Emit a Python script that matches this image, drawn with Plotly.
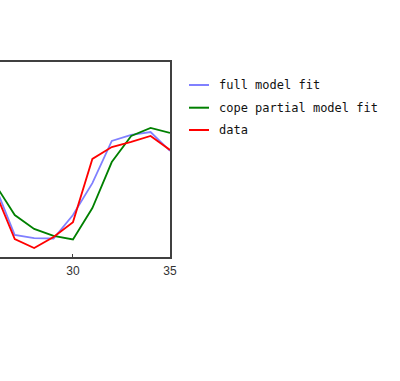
import plotly.graph_objects as go

# time points (volumes)
t = [26, 27, 28, 29, 30, 31, 32, 33, 34, 35]
# values (arbitrary signal units)
full_model_fit = [36.2, 11.3, 9.7, 9.5, 21.5, 37.9, 59.5, 62.6, 64.1, 54.4]
cope_partial_fit = [37.2, 21.5, 14.4, 10.8, 9.0, 25.1, 48.7, 62.1, 66.2, 63.6]
data = [33.3, 9.2, 4.6, 10.3, 17.9, 50.3, 56.4, 59.0, 62.1, 54.9]

series_names = ["full model fit", "cope partial model fit", "data"]
series_colors = ["#8080ff", "#008000", "#ff0000"]
x_ticks = [25, 30, 35]

fig = go.Figure()
for name, vals, col in zip(series_names, [full_model_fit, cope_partial_fit, data], series_colors):
    fig.add_trace(go.Scatter(x=t, y=vals, mode="lines", name=name,
                             line=dict(color=col, width=1.8), showlegend=False))

# plot area: 170 px wide, 195 px tall
W_PLOT = 170.0
H_PLOT = 195.0
shapes = []
annotations = []
legend_y_px = [85, 107.7, 130]
for name, col, ypx in zip(series_names, series_colors, legend_y_px):
    yp = (257 - ypx) / H_PLOT
    shapes.append(dict(type="line", xref="paper", yref="paper",
                       x0=189 / W_PLOT, x1=209 / W_PLOT, y0=yp, y1=yp,
                       line=dict(color=col, width=2)))
    annotations.append(dict(text=name, xref="paper", yref="paper",
                            x=217 / W_PLOT, y=yp, xanchor="left", yanchor="middle",
                            showarrow=False,
                            font=dict(family="DejaVu Sans Mono", size=12, color="#111111")))

fig.update_layout(
    width=400, height=381,
    margin=dict(l=0, r=230, t=62, b=124),
    paper_bgcolor="white", plot_bgcolor="white",
    shapes=shapes, annotations=annotations,
    xaxis=dict(range=[26.24, 35], tickvals=x_ticks, ticktext=[str(v) for v in x_ticks],
               showgrid=False, zeroline=False,
               showline=True, mirror=True, linecolor="#404040", linewidth=1.5,
               ticks="inside", ticklen=3, tickcolor="#404040", ticklabelstandoff=2,
               tickfont=dict(family="Arial", size=12, color="#333333")),
    yaxis=dict(range=[0, 100], showgrid=False, zeroline=False,
               side="right", showline=True, mirror=False, linecolor="#404040", linewidth=1.5,
               showticklabels=False, ticks=""),
)

fig.write_html("out.html", config={"displayModeBar": False},
               post_script="document.body.style.margin='0px';")
